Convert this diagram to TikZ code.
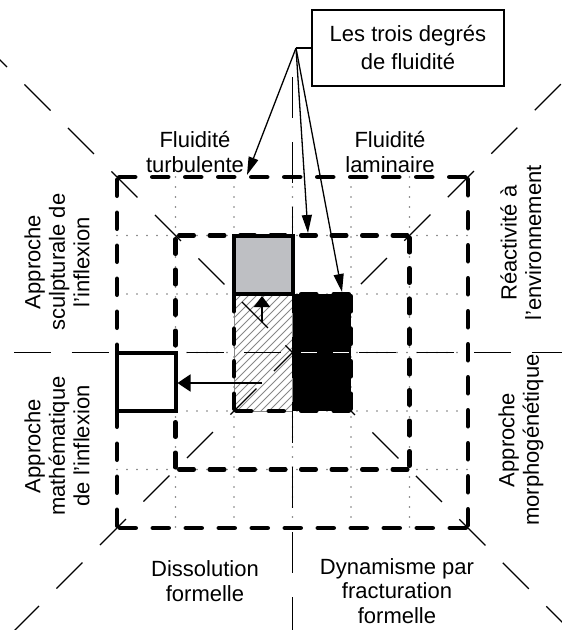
\documentclass[tikz,border=0pt]{standalone}
\usepackage{fontspec}
\setmainfont{Liberation Sans}
\usetikzlibrary{arrows.meta}
\definecolor{graysq}{RGB}{190,191,195}
\definecolor{hatchcol}{RGB}{135,135,135}
\definecolor{dotcol}{RGB}{120,120,120}
\begin{document}
\begin{tikzpicture}[x=1pt,y=-1pt,
  lbl/.style={font=\fontsize{22}{24.5}\selectfont, align=center, inner sep=0pt},
  axisline/.style={line width=1.2pt, black},
  gridline/.style={line width=1.7pt, dotcol, line cap=round, dash pattern=on 0pt off 10pt},
  outerdash/.style={line width=4.5pt, line cap=round, dash pattern=on 16pt off 17pt},
  innerdash/.style={line width=4.5pt, line cap=round, dash pattern=on 14.5pt off 16pt},
  coredash/.style={line width=4.5pt, line cap=round, dash pattern=on 15pt off 17.5pt},
  hatchline/.style={line width=0.8pt, hatchcol},
  leader/.style={line width=1.3pt, -{Triangle[length=18pt,width=10pt]}},
  bigarrow/.style={line width=2pt, -{Triangle[length=11pt,width=16pt]}}
]
\useasboundingbox (0,0) rectangle (562,630);
\fill[white] (0,0) rectangle (562,630);
\clip (0,0) rectangle (562,630);

% dotted grid
\foreach \x in {175.5,234,292.5,351,409.5}
  \draw[gridline] (\x,177) -- (\x,528);
\foreach \y in {235.5,294,352.5,411,469.5}
  \draw[gridline] (117,\y) -- (468,\y);

% hatched half of the core square
\begin{scope}
  \clip (234,294) rectangle (292.5,411);
  \fill[white] (234,294) rectangle (292.5,411);
  \foreach \c in {520,528,...,712}
    \draw[hatchline] ({\c-280},280) -- ({\c-420},420);
\end{scope}
\draw[hatchline] (234,294) rectangle (292.5,411);

% axes and diagonals
\coordinate (hL) at (14,352.5);
\coordinate (hR) at (570,352.5);
\coordinate (vT) at (292.5,77);
\coordinate (vB) at (292.5,640);
\coordinate (d1a) at (-19,41);
\coordinate (d1b) at (640,700);
\coordinate (d2a) at (-30.5,675.5);
\coordinate (d2b) at (680,-35);
\draw[axisline, dash pattern=on 37pt off 20.5pt] (hL) -- (hR);
\draw[axisline, dash pattern=on 41pt off 24pt] (vT) -- (vB);
\draw[axisline, dash pattern=on 36.8pt off 24.7pt] (d1a) -- (d1b);
\draw[axisline, dash pattern=on 36.8pt off 24.7pt] (d2a) -- (d2b);

% outer dashed square
\draw[outerdash] (119.25,177) -- (465.75,177);
\draw[outerdash] (468,179.25) -- (468,525.75);
\draw[outerdash] (465.75,528) -- (119.25,528);
\draw[outerdash] (117,525.75) -- (117,179.25);

% inner dashed square
\draw[innerdash] (179.25,235.5) -- (407.25,235.5);
\draw[innerdash] (409.5,237.75) -- (409.5,467.25);
\draw[innerdash] (407.25,469.5) -- (179.25,469.5);
\draw[innerdash] (175.5,467.25) -- (175.5,237.75);

% black half of the core square
\fill[black] (292.5,294) rectangle (351,411);
\draw[white, line width=1.6pt, dash pattern=on 16pt off 16pt] (301,352.5) -- (351,352.5);

% core dashed square
\draw[coredash] (236.25,294) -- (348.75,294);
\draw[coredash] (351,296.25) -- (351,408.75);
\draw[coredash] (348.75,411) -- (236.25,411);
\draw[coredash] (234,408.75) -- (234,296.25);

% grey square and white square
\draw[line width=4pt, fill=graysq] (234,235.5) rectangle (292.5,294);
\draw[line width=4pt, fill=white] (117,352.5) rectangle (175.5,411);

% arrows inside
\coordinate (upT) at (262,322);
\coordinate (upH) at (262,296);
\coordinate (lfT) at (262,383);
\coordinate (lfH) at (177.5,383);
\draw[bigarrow] (upT) -- (upH);
\draw[line width=1.8pt, -{Triangle[length=13pt,width=17pt]}] (lfT) -- (lfH);

% label box and leaders
\node[lbl, draw, line width=1.2pt, minimum width=192pt, minimum height=76pt, font=\fontsize{22}{28}\selectfont] (box) at (408,48) {Les trois degrés\\de fluidité};
\coordinate (J) at (296,48);
\coordinate (t1) at (247,175);
\coordinate (t2) at (308,233);
\coordinate (t3) at (342,292);
\draw[line width=1.3pt] (box.west) -- (J);
\draw[leader] (J) -- (t1);
\draw[leader] (J) -- (t2);
\draw[leader] (J) -- (t3);

% texts
\node[lbl] (turb) at (195,152) {Fluidité\\turbulente};
\node[lbl] (lam) at (390,152) {Fluidité\\laminaire};
\node[lbl] (diss) at (205,581) {Dissolution\\formelle};
\node[lbl] (dyn) at (397,591) {Dynamisme par\\fracturation\\formelle};
\node[lbl, rotate=90] (sculpt) at (57,262) {Approche\\sculpturale de\\l'inflexion};
\node[lbl, rotate=90] (math) at (57,446) {Approche\\mathématique\\de l'inflexion};
\node[lbl, rotate=90] (react) at (521,243) {Réactivité à\\l'environnement};
\node[lbl, rotate=90] (morph) at (521,440) {Approche\\morphogénétique};
\end{tikzpicture}
\end{document}
